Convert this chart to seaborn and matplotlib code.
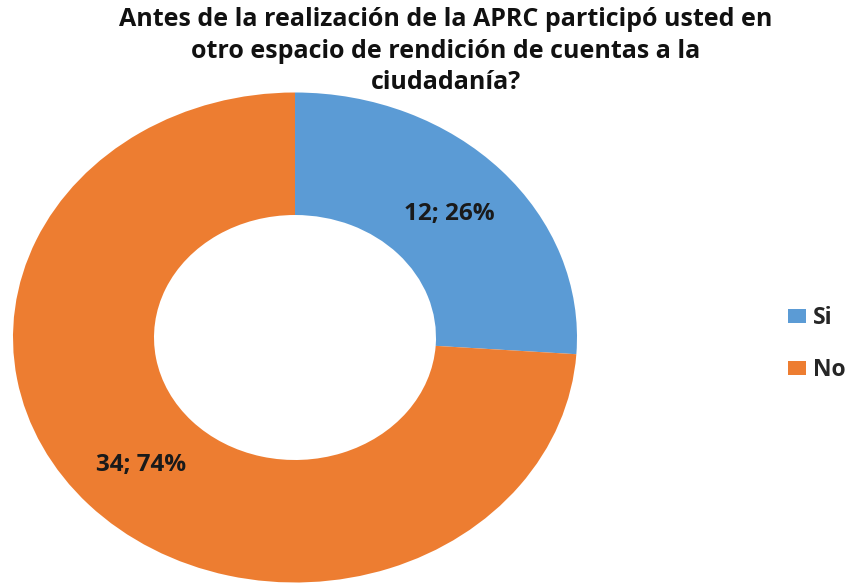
import matplotlib
matplotlib.use("Agg")
import matplotlib.pyplot as plt
import seaborn as sns

# Survey answers
categories = ["Si", "No"]
counts = [12, 34]
percents = [26, 74]
colors = ["#5B9BD5", "#ED7D31"]
title_lines = ["Antes de la realización de la APRC participó usted en",
               "otro espacio de rendición de cuentas a la",
               "ciudadanía?"]

sns.set_theme(style="white")
plt.rcParams["font.family"] = ["Open Sans", "DejaVu Sans"]

W, H = 850, 585
fig = plt.figure(figsize=(W / 100, H / 100), dpi=100)

# Donut axes in pixel terms: centre (295, 337.5), radii 282 x 245
cx, cy, rx, ry = 295, 337.5, 282, 245
ax = fig.add_axes([(cx - rx) / W, (H - cy - ry) / H, 2 * rx / W, 2 * ry / H])

wedges, _ = ax.pie(counts, colors=colors, startangle=90, counterclock=False,
                   radius=1.0, wedgeprops=dict(width=0.5, edgecolor="none"))
ax.set_aspect("auto")
ax.set_xlim(-1, 1)
ax.set_ylim(-1, 1)
ax.axis("off")

# Data labels "value; percent%"
label_pos = [(0.548, 0.504), (-0.546, -0.520)]
for (x, y), c, p in zip(label_pos, counts, percents):
    ax.text(x, y, f"{c}; {p}%", ha="center", va="center",
            fontsize=17.5, fontweight="bold", color="#1a1a1a")

# Title, one line at a time on fixed baselines
for i, line in enumerate(title_lines):
    fig.text(446 / W, 1 - (26 + 31.5 * i) / H, line, ha="center",
             va="baseline", fontsize=18, fontweight="bold", color="#111111")

fig.legend(wedges, categories, loc="center left",
           bbox_to_anchor=(788 / W, 1 - 344 / H), frameon=False,
           borderaxespad=0, borderpad=0,
           prop=dict(weight="bold", size=16.5), handlelength=0.8,
           handleheight=0.57, handletextpad=0.3, labelspacing=1.2)

fig.savefig("out.png", dpi=100, facecolor="white")
